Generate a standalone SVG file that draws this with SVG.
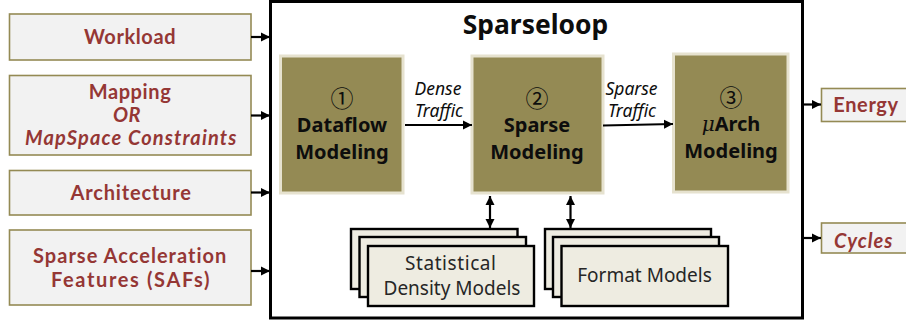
<svg xmlns="http://www.w3.org/2000/svg" width="906" height="322" viewBox="0 0 906 322">
<style>
.in{fill:#f2f2f2;stroke:#948a54;stroke-width:1.6}
.lbl{font-family:"Lato","Noto Sans",sans-serif;font-weight:700;font-size:20px;fill:#953735;text-anchor:middle;letter-spacing:.6px}
.it{font-style:italic}
.core{fill:#948a54;stroke:#e6e2cf;stroke-width:3}
.ct{font-family:"Noto Sans",sans-serif;font-weight:700;font-size:20px;fill:#0d0d0d;text-anchor:middle}
.num{font-family:"Noto Sans CJK JP",sans-serif;font-size:23px;fill:#0d0d0d;text-anchor:middle}
.tr{font-family:"Noto Sans",sans-serif;font-style:italic;font-size:17.5px;fill:#0d0d0d;text-anchor:middle}
.st{fill:#eeece1;stroke:#000;stroke-width:2.4}
.mt{font-family:"Noto Sans",sans-serif;font-size:19px;fill:#262626;text-anchor:middle}
.c{fill:none;stroke:#000;stroke-width:2.2}
</style>
<defs>
<marker id="a" markerUnits="userSpaceOnUse" markerWidth="10" markerHeight="10" refX="9" refY="5" orient="auto-start-reverse"><path d="M0 0.5L9 5L0 9.5z" fill="#000"/></marker>
</defs>
<g id="sparseloop"><rect x="270.500" y="1.500" width="532" height="316.500" fill="#fff" stroke="#000" stroke-width="3"/>
<text x="535.500" y="34" font-family="Noto Sans, sans-serif" font-weight="700" font-size="26.400" fill="#0d0d0d" text-anchor="middle">Sparseloop</text></g>
<g id="workload"><rect class="in" x="9.500" y="14" width="241.500" height="46"/><text class="lbl" x="130" y="44">Workload</text></g>
<g id="mapping"><rect class="in" x="9.500" y="75.500" width="241.500" height="79.500"/><text class="lbl" x="130" y="99">Mapping</text><text class="lbl it" x="127" y="122">OR</text><text class="lbl it" x="131" y="145" textLength="212">MapSpace Constraints</text></g>
<g id="architecture"><rect class="in" x="9.500" y="170.500" width="241.500" height="44.500"/><text class="lbl" x="131" y="200" textLength="121">Architecture</text></g>
<g id="safs"><rect class="in" x="9.500" y="230" width="241.500" height="75"/><text class="lbl" x="130" y="263" textLength="194">Sparse Acceleration</text><text class="lbl" x="130.500" y="287" textLength="159">Features (SAFs)</text></g>
<g id="dataflow"><rect class="core" x="280.500" y="56" width="122.500" height="137"/><text class="num" x="342" y="107">①</text><text class="ct" x="342" y="132">Dataflow</text><text class="ct" x="342" y="159">Modeling</text></g>
<g id="sparse"><rect class="core" x="472" y="56" width="131" height="137"/><text class="num" x="537" y="107">②</text><text class="ct" x="537" y="132">Sparse</text><text class="ct" x="537" y="159">Modeling</text></g>
<g id="uarch"><rect class="core" x="673.500" y="54" width="114.500" height="138"/><text class="num" x="731" y="106">③</text><text class="ct" x="731" y="131"><tspan font-family="DejaVu Serif, serif" font-style="italic" font-weight="400">μ</tspan>Arch</text><text class="ct" x="731" y="158">Modeling</text></g>
<g id="density"><rect class="st" x="351" y="229" width="166.500" height="60"/><rect class="st" x="359.500" y="237" width="166.500" height="60"/><rect class="st" x="368" y="246" width="166" height="60"/><text class="mt" x="450.500" y="270" textLength="91">Statistical</text><text class="mt" x="452" y="295">Density Models</text></g>
<g id="format"><rect class="st" x="545" y="229" width="166" height="60"/><rect class="st" x="553" y="237" width="166" height="60"/><rect class="st" x="561.500" y="246" width="166.500" height="60"/><text class="mt" x="644.500" y="282">Format Models</text></g>
<g id="energy"><rect class="in" x="821.500" y="88.500" width="90" height="33"/><text class="lbl" x="866" y="112">Energy</text></g>
<g id="cycles"><rect class="in" x="821.500" y="223" width="90" height="30"/><text class="lbl it" x="863.500" y="248" textLength="59">Cycles</text></g>
<g id="connectors">
<path class="c" marker-end="url(#a)" d="M251 37H270"/>
<path class="c" marker-end="url(#a)" d="M251 115.500H270"/>
<path class="c" marker-end="url(#a)" d="M251 192.500H270"/>
<path class="c" marker-end="url(#a)" d="M251 271H270"/>
<path class="c" marker-end="url(#a)" d="M405 125H472"/>
<path class="c" marker-end="url(#a)" d="M603 125.500L673 124"/>
<path class="c" marker-start="url(#a)" marker-end="url(#a)" d="M490 196V228"/>
<path class="c" marker-start="url(#a)" marker-end="url(#a)" d="M570.500 196V228"/>
<path class="c" marker-end="url(#a)" d="M803 104.500H821"/>
<path class="c" marker-end="url(#a)" d="M803 238H821"/>
</g>
<text class="tr" x="438" y="95">Dense</text><text class="tr" x="439" y="117">Traffic</text>
<text class="tr" x="631.500" y="95">Sparse</text><text class="tr" x="632" y="117">Traffic</text>
</svg>
